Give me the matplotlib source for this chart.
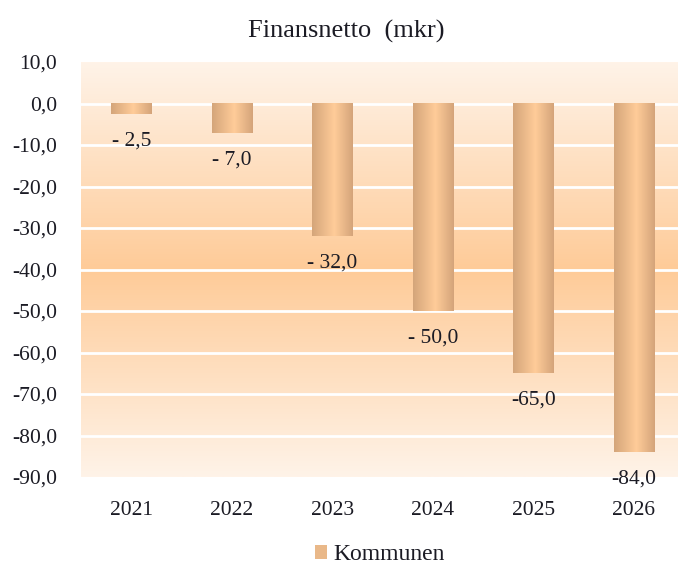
import matplotlib.pyplot as plt
import numpy as np
from matplotlib.colors import LinearSegmentedColormap
from matplotlib.patches import Patch
from matplotlib.ticker import FuncFormatter, MultipleLocator

years = ["2021", "2022", "2023", "2024", "2025", "2026"]
finansnetto = [-2.5, -7.0, -32.0, -50.0, -65.0, -84.0]
value_labels = ["- 2,5", "- 7,0", "- 32,0", "- 50,0", "-65,0", "-84,0"]
series_name = "Kommunen"
title = "Finansnetto  (mkr)"

plt.rcParams["font.family"] = ["Liberation Serif", "DejaVu Serif"]
text_colour = "#1b1b24"

fig = plt.figure(figsize=(6.78, 5.67), dpi=100)
ax = fig.add_axes([81 / 678, 1 - 477 / 567, (684 - 81) / 678, 415 / 567])

x = np.arange(len(years))
ymin, ymax = -90, 10
ax.set_xlim(-0.5, len(years) - 0.5)
ax.set_ylim(ymin, ymax)

# vertical background gradient, light top/bottom, peach in the middle
bg_cmap = LinearSegmentedColormap.from_list(
    "bg", [(0.0, "#fff3e8"), (0.5, "#fecb98"), (1.0, "#fff3e8")]
)
grad = np.linspace(0, 1, 256).reshape(-1, 1)
ax.imshow(grad, extent=(-0.5, len(years) - 0.5, ymin, ymax), origin="upper",
          aspect="auto", cmap=bg_cmap, zorder=0)

for yv in range(-80, 10, 10):
    ax.axhline(yv, color="white", linewidth=2, zorder=1)

# bars with horizontal gradient
bar_cmap = LinearSegmentedColormap.from_list(
    "bar", [(0.0, "#d4a57a"), (0.55, "#ffcc99"), (1.0, "#d4a47a")]
)
bar_grad = np.linspace(0, 1, 128).reshape(1, -1)
width = 0.4
bars = ax.bar(x, finansnetto, width=width, color="none", zorder=2)
for rect in bars:
    x0 = rect.get_x()
    h = rect.get_height()
    ax.imshow(bar_grad, extent=(x0, x0 + width, h, 0), aspect="auto",
              cmap=bar_cmap, zorder=2)

for xi, v, lab in zip(x, finansnetto, value_labels):
    ax.annotate(lab, (xi, v), xytext=(0, -27), textcoords="offset pixels",
                ha="center", va="center", fontsize=15.5, color=text_colour,
                zorder=3, annotation_clip=False)

ax.set_xlim(-0.5, len(years) - 0.5)
ax.set_ylim(ymin, ymax)
ax.set_xticks(x)
ax.set_xticklabels(years)
ax.yaxis.set_major_locator(MultipleLocator(10))
ax.yaxis.set_major_formatter(FuncFormatter(lambda v, p: f"{v:.1f}".replace(".", ",")))
ax.tick_params(length=0, labelsize=15.5, labelcolor=text_colour)
ax.tick_params(axis="x", pad=17)
ax.tick_params(axis="y", pad=17)
for s in ax.spines.values():
    s.set_visible(False)

fig.text(346 / 678, 1 - 31 / 567, title, ha="center", va="center",
         fontsize=19, color=text_colour)

handles = [Patch(facecolor="#e9b889", label=series_name)]
fig.legend(handles=handles, loc="center", bbox_to_anchor=(380 / 678, 1 - 555 / 567),
           frameon=False, fontsize=17, handlelength=0.5, handleheight=0.5,
           handletextpad=0.3, labelcolor=text_colour)

fig.savefig("out.png", dpi=100)
